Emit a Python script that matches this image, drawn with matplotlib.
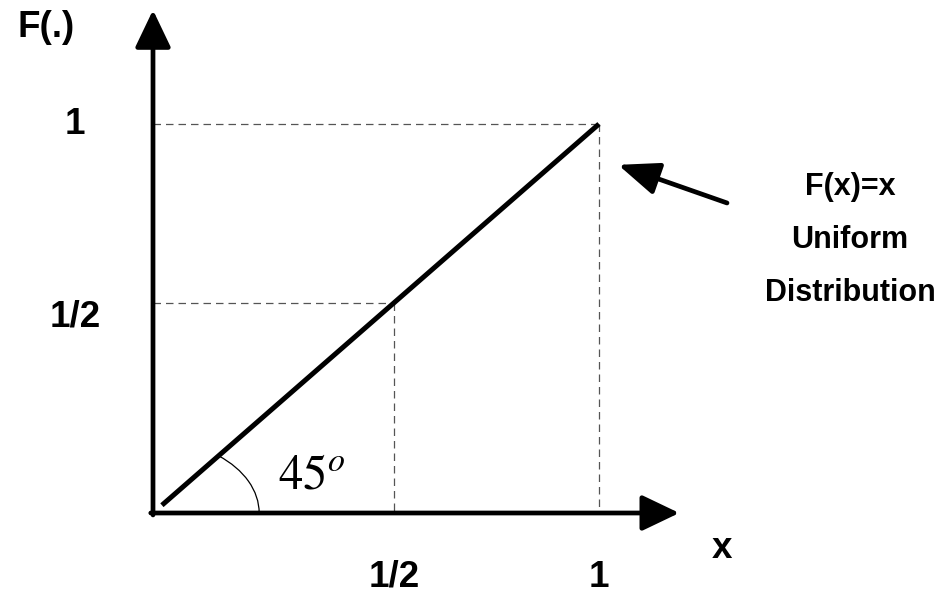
import matplotlib
matplotlib.use("Agg")
import matplotlib.pyplot as plt
from matplotlib.patches import Arc

plt.rcParams['mathtext.fontset'] = 'stix'

# F(x) = x on [0, 1], the uniform CDF
line_x = [0.02, 1.0]
line_y = [0.02, 1.0]

# guide points (the "1/2" guide sits a bit right of 0.5)
guide_vals = [0.54, 1.0]
guide_labels = ['1/2', '1']

axis_x_end = 1.18
axis_y_end = 1.293

fig = plt.figure(figsize=(9.52, 6.05), dpi=100)
fig.patch.set_facecolor('white')
ax = fig.add_axes([0, 0, 1, 1])
# origin sits at pixel (153, 513), unit is 446 px wide and 389 px tall
ax.set_xlim(-153 / 446, (952 - 153) / 446)
ax.set_ylim(-(605 - 513) / 389, 513 / 389)
ax.axis('off')

bold = dict(family='Liberation Sans', weight='bold', color='black')

# dashed guides
for v in guide_vals:
    ax.plot([0, v], [v, v], ls=(0, (6, 4)), lw=0.9, color='#555555')
    ax.plot([v, v], [v, 0], ls=(0, (6, 4)), lw=0.9, color='#555555')

# the CDF line
ax.plot(line_x, line_y, color='black', lw=3.6, solid_capstyle='butt')

# axes with arrow heads
arrow = dict(arrowstyle='-|>,head_length=2.3,head_width=1.1', lw=3.4,
             color='black', mutation_scale=10, shrinkA=0, shrinkB=0)
ax.annotate('', xy=(0, axis_y_end), xytext=(0, -0.005), arrowprops=arrow)
ax.annotate('', xy=(axis_x_end, 0), xytext=(-0.005, 0), arrowprops=arrow)

# 45 degree arc
ax.add_patch(Arc((0, 0), 0.476, 0.374, theta1=0, theta2=45, lw=0.9, color='black'))
ax.text(0.28, 0.1, r'$45^o$', fontsize=35, ha='left', va='center', color='black')

# tick labels
ax.text(-0.175, 1.0, guide_labels[1], fontsize=26.5, ha='center', va='center', **bold)
ax.text(-0.175, 0.504, guide_labels[0], fontsize=26.5, ha='center', va='center', **bold)
ax.text(guide_vals[0], -0.165, guide_labels[0], fontsize=26.5, ha='center', va='center', **bold)
ax.text(guide_vals[1], -0.165, guide_labels[1], fontsize=26.5, ha='center', va='center', **bold)

# axis names
ax.text(-0.24, 1.249, 'F(.)', fontsize=26.5, ha='center', va='center', **bold)
ax.text(1.276, -0.09, 'x', fontsize=26.5, ha='center', va='center', **bold)

# callout
ax.annotate('', xy=(1.043, 0.895), xytext=(1.287, 0.797),
            arrowprops=dict(arrowstyle='-|>,head_length=2.5,head_width=1.0', lw=3.4,
                            color='black', mutation_scale=10, shrinkA=0, shrinkB=0))
ax.text(1.563, 0.838, 'F(x)=x', fontsize=22, ha='center', va='center', **bold)
ax.text(1.563, 0.702, 'Uniform', fontsize=22, ha='center', va='center', **bold)
ax.text(1.563, 0.566, 'Distribution', fontsize=22, ha='center', va='center', **bold)

fig.savefig('out.png', dpi=100, facecolor='white')
plt.close(fig)
